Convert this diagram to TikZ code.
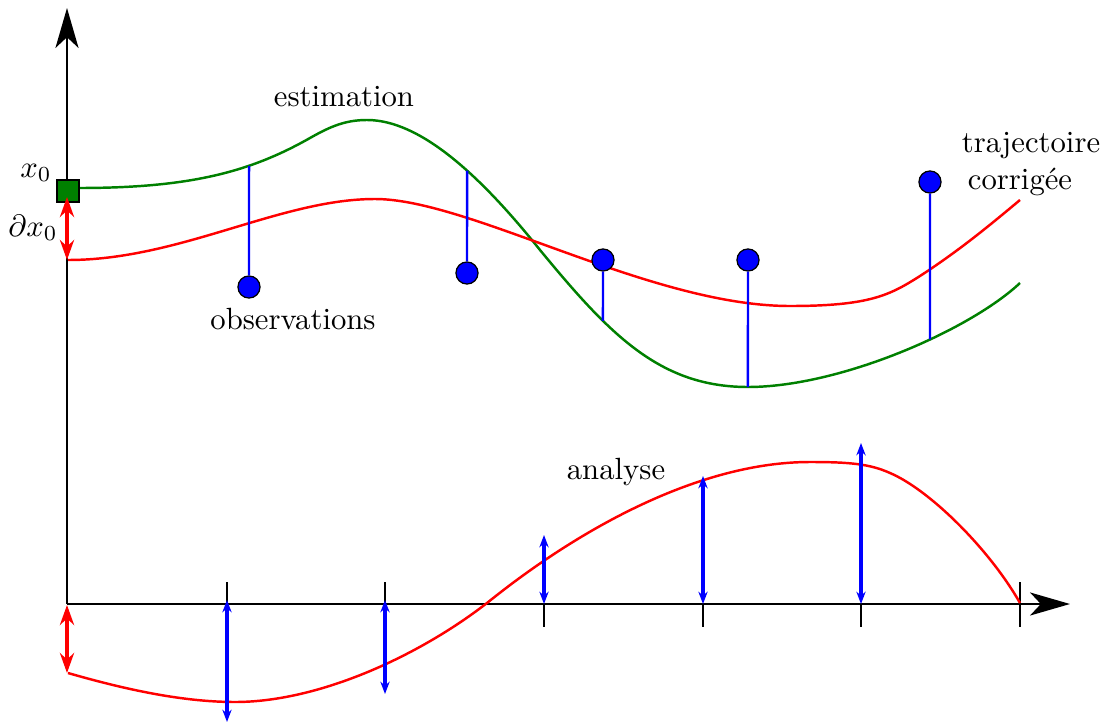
\documentclass[tikz,border=0pt]{standalone}
\usetikzlibrary{arrows.meta,intersections}
\definecolor{dgreen}{rgb}{0,0.5,0}
\begin{document}
\begin{tikzpicture}[x=0.01145cm,y=-0.01145cm,
  axis/.style={line width=0.8pt,-{Stealth[length=13pt,width=7.5pt,inset=3.5pt]}},
  tickmark/.style={line width=0.8pt},
  curve/.style={line width=0.8pt},
  obs/.style={circle,draw=black,fill=blue,minimum size=7.2pt,inner sep=0pt,line width=0.4pt},
  obsline/.style={blue,line width=0.8pt},
  incr/.style={blue,line width=1.1pt,{Stealth[length=4pt,width=3pt]}-{Stealth[length=4pt,width=3pt]}},
  delta/.style={red,line width=1.3pt,{Stealth[length=6.5pt,width=4.6pt]}-{Stealth[length=6.5pt,width=4.6pt]}},
  lbl/.style={inner sep=0pt}]
\useasboundingbox (0,0) rectangle (1109,722);

% axes
\coordinate (O) at (67,604);
\coordinate (ytop) at (67,8);
\coordinate (xend) at (1070,604);
\draw[axis] (O) -- (ytop);
\draw[axis] (O) -- (xend);

% ticks
\foreach \x in {67,227,385} \draw[tickmark] (\x,582) -- (\x,604);
\foreach \x in {544,703,861} \draw[tickmark] (\x,604) -- (\x,627);
\draw[tickmark] (1020,582) -- (1020,627);

% estimation (green)
\draw[curve,dgreen,name path=green] (79,188)
  .. controls (190,188) and (250,172) .. (310,138)
  .. controls (330,126.7) and (345,120) .. (367,120)
  .. controls (420,120) and (480,175) .. (540,250)
  .. controls (610,335) and (660,387) .. (748,387)
  .. controls (840,387) and (970,330) .. (1020,283);

% corrected trajectory (red)
\draw[curve,red] (68,260)
  .. controls (180,260) and (280,199) .. (375,199)
  .. controls (470,199) and (650,306) .. (790,306)
  .. controls (870,306) and (890,295) .. (920,276)
  .. controls (960,250) and (990,225) .. (1020,200);

% analysis (red, bottom)
\draw[curve,red] (68,673)
  .. controls (120,688) and (180,702) .. (235,702)
  .. controls (320,702) and (420,655) .. (487,603)
  .. controls (580,528) and (700,462) .. (810,462)
  .. controls (850,462) and (870,464) .. (890,473)
  .. controls (930,490) and (990,550) .. (1020,603);

% observations
\node[obs] (o1) at (249,287) {};
\node[obs] (o2) at (467,273) {};
\node[obs] (o3) at (603,260) {};
\node[obs] (o4) at (748,260) {};
\node[obs] (o5) at (930,182) {};
\foreach \i in {1,...,5} {
  \path[name path=v\i] (o\i.center) ++(0,-300) -- ++(0,600);
  \path[name intersections={of=green and v\i, by={g\i}}];
}
\draw[obsline] (g1) -- (o1.north);
\draw[obsline] (g2) -- (o2.north);
\draw[obsline] (o3.south) -- (g3);
\draw[obsline] (o4.south) -- (g4);
\draw[obsline] (o5.south) -- (g5);

% initial state
\node[draw=black,fill=dgreen,minimum size=7.3pt,inner sep=0pt,line width=0.6pt] (sq) at (68,191) {};
\coordinate (d0a) at (67,197);
\coordinate (d0b) at (67,260);
\draw[delta] (d0a) -- (d0b);

% analysis increments
\coordinate (d1a) at (67,605);
\coordinate (d1b) at (67,673);
\draw[delta] (d1a) -- (d1b);
\coordinate (a1) at (227,600); \coordinate (b1) at (227,722);
\coordinate (a2) at (385,600); \coordinate (b2) at (385,694);
\coordinate (a3) at (544,535); \coordinate (b3) at (544,604);
\coordinate (a4) at (703,476); \coordinate (b4) at (703,604);
\coordinate (a5) at (861,443); \coordinate (b5) at (861,604);
\draw[incr] (a1) -- (b1);
\draw[incr] (a2) -- (b2);
\draw[incr] (a3) -- (b3);
\draw[incr] (a4) -- (b4);
\draw[incr] (a5) -- (b5);

% labels
\node[lbl] (lx0) at (36,173) {$x_0$};
\node[lbl] (ldx0) at (33,228) {$\partial x_0$};
\node[lbl,anchor=base] (lest) at (344,106) {estimation};
\node[lbl,anchor=base] (lobs) at (293,329) {observations};
\node[lbl,anchor=base] (ltraj) at (1031,152) {trajectoire};
\node[lbl,anchor=base] (lcorr) at (1020,189) {corrigée};
\node[lbl,anchor=base] (lana) at (616,479) {analyse};
\end{tikzpicture}
\end{document}
